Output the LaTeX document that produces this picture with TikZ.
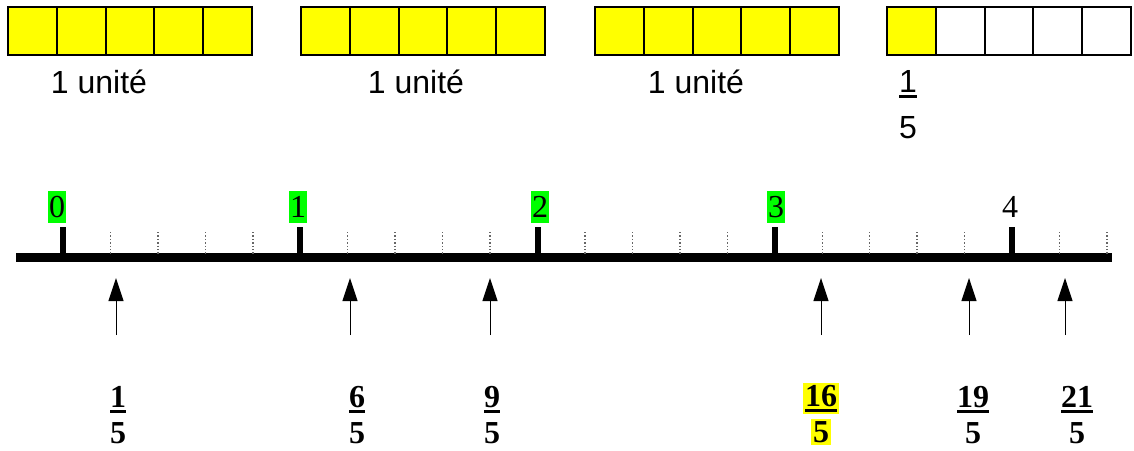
\documentclass[tikz,border=0pt]{standalone}
\usepackage{fontspec}
\setmainfont{Liberation Serif}
\newfontfamily\comicfont{Liberation Sans}
\usetikzlibrary{arrows.meta}
\definecolor{vertfluo}{RGB}{0,255,0}
\definecolor{jaune}{RGB}{255,255,0}
\setlength{\fboxsep}{1pt}
\newcommand{\numer}[1]{\leavevmode\vtop{\hbox{#1}\kern1.2pt\hrule height1.5pt}}

\begin{document}
\begin{tikzpicture}[x=0.5pt,y=-0.5pt,
  cell/.style={draw=black, line width=1pt},
  unite/.style={font=\comicfont\fontsize{16}{23}\selectfont, inner sep=0pt, align=center},
  grad/.style={font=\fontsize{16}{18}\selectfont, inner xsep=0.6pt, inner ysep=2.5pt},
  frac/.style={font=\bfseries\fontsize{16}{18}\selectfont, align=center, inner sep=0pt},
  fleche/.style={-{Triangle[width=7.5pt,length=11.5pt]}, line width=0.5pt}]

\useasboundingbox (0,0) rectangle (1134,450);

% les bandes
\foreach \x in {8,301,595} {
  \foreach \k in {0,...,4}
    \filldraw[cell, fill=jaune] (\x+48.8*\k,7) rectangle ++(48.8,48);
}
\filldraw[cell, fill=jaune] (887,7) rectangle ++(48.8,48);
\foreach \k in {1,...,4}
  \draw[cell] (887+48.8*\k,7) rectangle ++(48.8,48);

\node[unite] (u1) at (99,82) {1 unité};
\node[unite] (u2) at (416,82) {1 unité};
\node[unite] (u3) at (696,82) {1 unité};
\node[unite] (cinq) at (908,105) {\numer{1}\\5};

% la droite graduee
\draw[line width=4.5pt] (16,257) -- (1112,257);
\foreach \k in {1,...,22} {
  \draw[black!60, densely dotted, line width=0.7pt] (63+47.45*\k,232) -- (63+47.45*\k,255);
}
\foreach \n in {0,...,4}
  \draw[line width=3pt] (63+237.25*\n,254) -- (63+237.25*\n,227);

\node[grad, fill=vertfluo] (g0) at (57,207) {0};
\node[grad, fill=vertfluo] (g1) at (298,207) {1};
\node[grad, fill=vertfluo] (g2) at (540,207) {2};
\node[grad, fill=vertfluo] (g3) at (776,207) {3};
\node[grad] (g4) at (1010,207) {4};

% les fleches
\foreach \x/\nom in {116/a,350/b,490/c,821/d,969/e,1065/f} {
  \coordinate (\nom bas) at (\x,335);
  \coordinate (\nom haut) at (\x,278);
  \draw[fleche] (\nom bas) -- (\nom haut);
}

\node[frac] (f1) at (118,415) {\numer{1}\\5};
\node[frac] (f6) at (357,415) {\numer{6}\\5};
\node[frac] (f9) at (492,415) {\numer{9}\\5};
\node[frac] (f16) at (821,414) {\colorbox{jaune}{\numer{16}}\\\colorbox{jaune}{5}};
\node[frac] (f19) at (973,415) {\numer{19}\\5};
\node[frac] (f21) at (1077,415) {\numer{21}\\5};

\end{tikzpicture}
\end{document}
